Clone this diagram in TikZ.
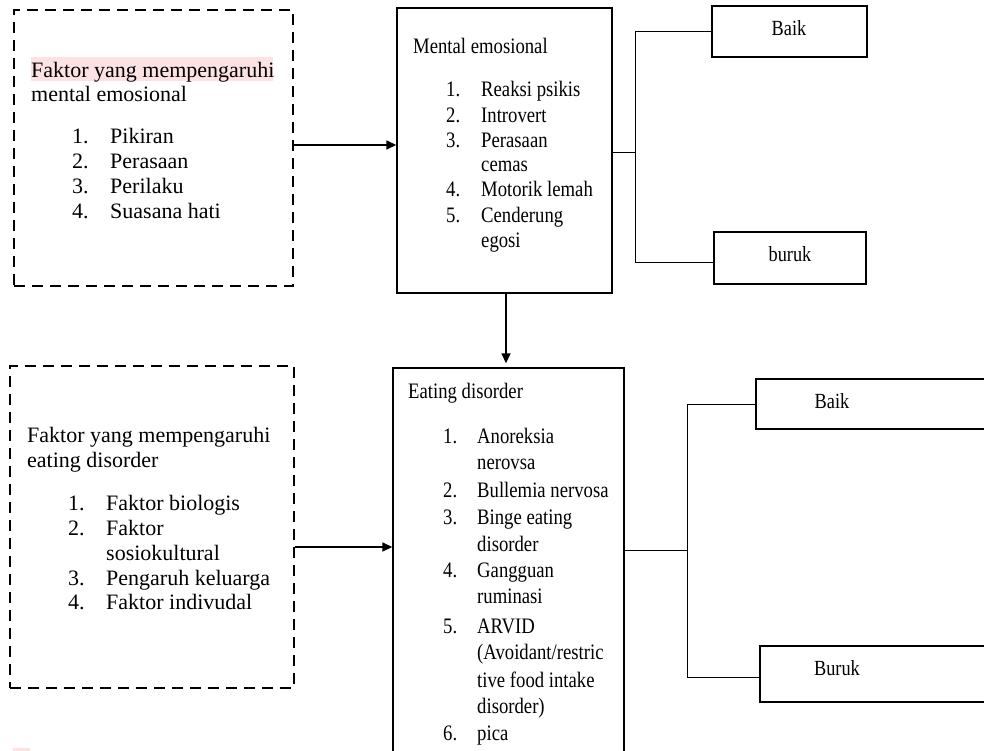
\documentclass[tikz,border=0pt]{standalone}
\usepackage{fontspec}
\usepackage{graphicx}
\setmainfont{Liberation Serif}
\usetikzlibrary{arrows.meta}
\newcommand\numlab[2]{\makebox[#1][l]{#2}}
\newcommand\vs[1]{\scalebox{1}[1.18]{#1}}
\definecolor{hlpink}{RGB}{252,226,226}
\begin{document}
\begin{tikzpicture}[x=1pt,y=-1pt,
  big/.style={anchor=base west, inner sep=0pt, font=\fontsize{22}{25}\selectfont},
  small/.style={anchor=base west, inner sep=0pt, font=\fontsize{18.7}{25}\selectfont},
  lab/.style={anchor=base, inner sep=0pt, font=\fontsize{18.3}{22}\selectfont},
  dbox/.style={draw, line width=1.8pt, dash pattern=on 11pt off 7pt, inner sep=0pt},
  sbox/.style={draw, line width=1.4pt, inner sep=0pt},
  arr/.style={line width=1.5pt, -{Triangle[length=10pt,width=9pt]}},
  link/.style={line width=0.9pt}]
\clip (0,0) rectangle (984,750);
\fill[white] (0,0) rectangle (984,750);

% boxes
\node[dbox, minimum width=279pt, minimum height=276pt] (A) at (153.5,148) {};
\node[sbox, minimum width=215pt, minimum height=285pt] (B) at (504.5,150.5) {};
\node[sbox, minimum width=155pt, minimum height=51pt] (baik1) at (789.5,31.5) {};
\node[sbox, minimum width=152pt, minimum height=52pt] (buruk1) at (790,258) {};
\node[dbox, minimum width=284pt, minimum height=322pt] (D) at (152,527) {};
\node[sbox, minimum width=231pt, minimum height=402pt] (ED) at (508.5,569) {};
\node[sbox, minimum width=234pt, minimum height=50pt] (baik2) at (873,404) {};
\node[sbox, minimum width=230pt, minimum height=56pt] (buruk2) at (875,674) {};

% highlight
\fill[hlpink] (31,57) rectangle (273,81);
\fill[hlpink] (13,748) rectangle (30,751);

% box A text
\node[big] (a1) at (31,77) {Faktor yang mempengaruhi};
\node[big] (a2) at (31,101) {mental emosional};
\node[big] (a3) at (72,143) {\numlab{38pt}{1.}Pikiran};
\node[big] (a4) at (72,168) {\numlab{38pt}{2.}Perasaan};
\node[big] (a5) at (72,193) {\numlab{38pt}{3.}Perilaku};
\node[big] (a6) at (72,218) {\numlab{38pt}{4.}Suasana hati};

% box B text
\node[small] (b1) at (413,53) {\vs{Mental emosional}};
\node[small] (b2) at (446,96) {\vs{\numlab{35pt}{1.}Reaksi psikis}};
\node[small] (b3) at (446,122) {\vs{\numlab{35pt}{2.}Introvert}};
\node[small] (b4) at (446,147) {\vs{\numlab{35pt}{3.}Perasaan}};
\node[small] (b5) at (481,171) {\vs{cemas}};
\node[small] (b6) at (446,196) {\vs{\numlab{35pt}{4.}Motorik lemah}};
\node[small] (b7) at (446,222) {\vs{\numlab{35pt}{5.}Cenderung}};
\node[small] (b8) at (481,247) {\vs{egosi}};

% box D text
\node[big] (d1) at (27,442) {Faktor yang mempengaruhi};
\node[big] (d2) at (27,467) {eating disorder};
\node[big] (d3) at (68,510) {\numlab{38pt}{1.}Faktor biologis};
\node[big] (d4) at (68,535) {\numlab{38pt}{2.}Faktor};
\node[big] (d5) at (106,560) {sosiokultural};
\node[big] (d6) at (68,585) {\numlab{38pt}{3.}Pengaruh keluarga};
\node[big] (d7) at (68,609) {\numlab{38pt}{4.}Faktor indivudal};

% ED text
\node[small] (e1) at (408,398) {\vs{Eating disorder}};
\node[small] (e2) at (443,443) {\vs{\numlab{34pt}{1.}Anoreksia}};
\node[small] (e3) at (477,469) {\vs{nerovsa}};
\node[small] (e4) at (443,497) {\vs{\numlab{34pt}{2.}Bullemia nervosa}};
\node[small] (e5) at (443,524) {\vs{\numlab{34pt}{3.}Binge eating}};
\node[small] (e6) at (477,551) {\vs{disorder}};
\node[small] (e7) at (443,577) {\vs{\numlab{34pt}{4.}Gangguan}};
\node[small] (e8) at (477,603) {\vs{ruminasi}};
\node[small] (e9) at (443,633) {\vs{\numlab{34pt}{5.}ARVID}};
\node[small] (e10) at (477,659) {\vs{(Avoidant/restric}};
\node[small] (e11) at (477,687) {\vs{tive food intake}};
\node[small] (e12) at (477,713) {\vs{disorder)}};
\node[small] (e13) at (443,740) {\vs{\numlab{34pt}{6.}pica}};

% outcome labels
\node[lab] (tb1) at (789,35) {\vs{Baik}};
\node[lab] (tr1) at (790,261) {\vs{buruk}};
\node[lab] (tb2) at (832,408) {\vs{Baik}};
\node[lab] (tr2) at (837,675) {\vs{Buruk}};

% arrows
\draw[arr] ([yshift=3pt]A.east) -- ([yshift=3pt]A.east -| B.west);
\draw[arr, shorten >=4pt] ([xshift=1.5pt]B.south) -- ([xshift=1.5pt]B.south |- ED.north);
\draw[arr] ([yshift=-20pt]D.east) -- ([yshift=-20pt]D.east -| ED.west);

% forks
\coordinate (f1) at (635,152);
\draw[link] (B.east |- f1) -- (f1);
\draw[link] (baik1.west) -| (f1) |- ([yshift=-4pt]buruk1.west);
\coordinate (f2) at (687,550);
\draw[link] (ED.east |- f2) -- (f2);
\draw[link] (baik2.west) -| (f2) |- ([yshift=-3pt]buruk2.west);
\end{tikzpicture}
\end{document}
